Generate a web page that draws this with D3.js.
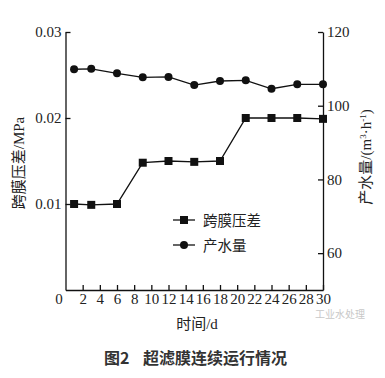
<!DOCTYPE html>
<html>
<head>
<meta charset="utf-8">
<script src="https://cdn.jsdelivr.net/npm/d3@7"></script>
<style>
  body { margin: 0; background: #fff; }
  svg { display: block; }
  .tick text { font-family: "Liberation Serif", serif; font-size: 15px; fill: #222; }
  .domain, .tick line { stroke: #111; stroke-width: 1.3; }
</style>
</head>
<body>
<script>
// days of operation
const days = [1, 3, 6, 9, 12, 15, 18, 21, 24, 27, 30];
// 跨膜压差 (MPa)
const tmp = [0.0100, 0.0099, 0.0100, 0.0148, 0.0150, 0.0149, 0.0150, 0.0200, 0.0200, 0.0200, 0.0199];
// 产水量 (m3/h)
const flow = [109.9, 110.0, 108.8, 107.7, 107.8, 105.6, 106.7, 106.9, 104.6, 105.8, 105.8];

const xTicks = [0, 2, 4, 6, 8, 10, 12, 14, 16, 18, 20, 22, 24, 26, 28, 30];
const leftTicks = [0.01, 0.02, 0.03];
const rightTicks = [60, 80, 100, 120];

const width = 385, height = 378;
const margin = {top: 32, right: 62, bottom: 88, left: 65.5};

const svg = d3.select('body')
  .append('svg')
    .attr('width', width)
    .attr('height', height);

const x = d3.scaleLinear().domain([0, 30]).range([margin.left, width - margin.right]);
const yL = d3.scaleLinear().domain([0, 0.03]).range([height - margin.bottom, margin.top]);
const yR = d3.scaleLinear().domain([50, 120]).range([height - margin.bottom, margin.top]);

// x axis, ticks pointing in
const xAxis = svg.append('g')
  .attr('transform', 'translate(0,' + (height - margin.bottom) + ')')
  .call(d3.axisBottom(x).tickValues(xTicks).tickSize(-5).tickPadding(3).tickSizeOuter(0));
xAxis.selectAll('.tick').filter(d => d === 0).select('line').remove();
xAxis.selectAll('.tick').filter(d => d === 0).select('text').attr('x', -7);

svg.append('g')
  .attr('transform', 'translate(' + margin.left + ',0)')
  .call(d3.axisLeft(yL).tickValues(leftTicks).tickFormat(d3.format('.2f'))
    .tickSize(-5).tickPadding(4).tickSizeOuter(0));

svg.append('g')
  .attr('transform', 'translate(' + (width - margin.right) + ',0)')
  .call(d3.axisRight(yR).tickValues(rightTicks).tickSize(-5).tickPadding(4).tickSizeOuter(0));

svg.selectAll('.domain').attr('fill', 'none');

const lineTmp = d3.line().x((d, i) => x(days[i])).y(d => yL(d));
const lineFlow = d3.line().x((d, i) => x(days[i])).y(d => yR(d));

svg.append('path')
  .datum(tmp)
  .attr('d', lineTmp)
  .attr('fill', 'none')
  .attr('stroke', '#111')
  .attr('stroke-width', 1.3);

svg.append('path')
  .datum(flow)
  .attr('d', lineFlow)
  .attr('fill', 'none')
  .attr('stroke', '#111')
  .attr('stroke-width', 1.3);

const sq = 8;
svg.selectAll('.sq')
  .data(tmp)
  .enter()
  .append('rect')
    .attr('x', (d, i) => x(days[i]) - sq / 2)
    .attr('y', d => yL(d) - sq / 2)
    .attr('width', sq)
    .attr('height', sq)
    .attr('fill', '#111');

svg.selectAll('.dot')
  .data(flow)
  .enter()
  .append('circle')
    .attr('cx', (d, i) => x(days[i]))
    .attr('cy', d => yR(d))
    .attr('r', 4)
    .attr('fill', '#111');

// legend
const legend = svg.append('g').attr('transform', 'translate(173,220)');
legend.append('line').attr('x1', 0).attr('x2', 22).attr('y1', 0).attr('y2', 0)
  .attr('stroke', '#111').attr('stroke-width', 1.3);
legend.append('rect').attr('x', 11 - sq / 2).attr('y', -sq / 2).attr('width', sq).attr('height', sq).attr('fill', '#111');
legend.append('text').attr('x', 30).attr('y', 5.5).text('跨膜压差');
legend.append('line').attr('x1', 0).attr('x2', 22).attr('y1', 25).attr('y2', 25)
  .attr('stroke', '#111').attr('stroke-width', 1.3);
legend.append('circle').attr('cx', 11).attr('cy', 25).attr('r', 4).attr('fill', '#111');
legend.append('text').attr('x', 30).attr('y', 30.5).text('产水量');
legend.selectAll('text')
  .style('font-family', '"Noto Sans CJK SC", sans-serif')
  .style('font-size', '14.5px')
  .style('fill', '#222');

// axis titles
const labelFont = '"Liberation Serif", "Noto Sans CJK SC", serif';
svg.append('text')
  .attr('transform', 'translate(24,163) rotate(-90)')
  .attr('text-anchor', 'middle')
  .style('font-family', labelFont)
  .style('font-size', '15px')
  .style('fill', '#222')
  .text('跨膜压差/MPa');

const rLabel = svg.append('text')
  .attr('transform', 'translate(371,157) rotate(-90)')
  .attr('text-anchor', 'middle')
  .style('font-family', labelFont)
  .style('font-size', '15px')
  .style('fill', '#222');
rLabel.append('tspan').text('产水量/(m');
rLabel.append('tspan').attr('dy', -5).style('font-size', '9px').text('3');
rLabel.append('tspan').attr('dy', 5).text('·h');
rLabel.append('tspan').attr('dy', -5).style('font-size', '9px').text('-1');
rLabel.append('tspan').attr('dy', 5).text(')');

svg.append('text')
  .attr('x', 197)
  .attr('y', 329)
  .attr('text-anchor', 'middle')
  .style('font-family', labelFont)
  .style('font-size', '15px')
  .style('fill', '#222')
  .text('时间/d');

// figure caption
svg.append('text')
  .attr('x', 104)
  .attr('y', 364)
  .style('font-family', '"Noto Sans CJK SC", sans-serif')
  .style('font-size', '16px')
  .style('font-weight', 'bold')
  .style('fill', '#333')
  .text('图2');
svg.append('text')
  .attr('x', 143)
  .attr('y', 364)
  .style('font-family', '"Noto Sans CJK SC", sans-serif')
  .style('font-size', '16px')
  .style('font-weight', 'bold')
  .style('fill', '#333')
  .text('超滤膜连续运行情况');

// watermark
svg.append('text')
  .attr('x', 315)
  .attr('y', 318)
  .style('font-family', '"Noto Sans CJK SC", sans-serif')
  .style('font-size', '10px')
  .style('fill', '#c8c8c8')
  .text('工业水处理');
</script>
</body>
</html>
